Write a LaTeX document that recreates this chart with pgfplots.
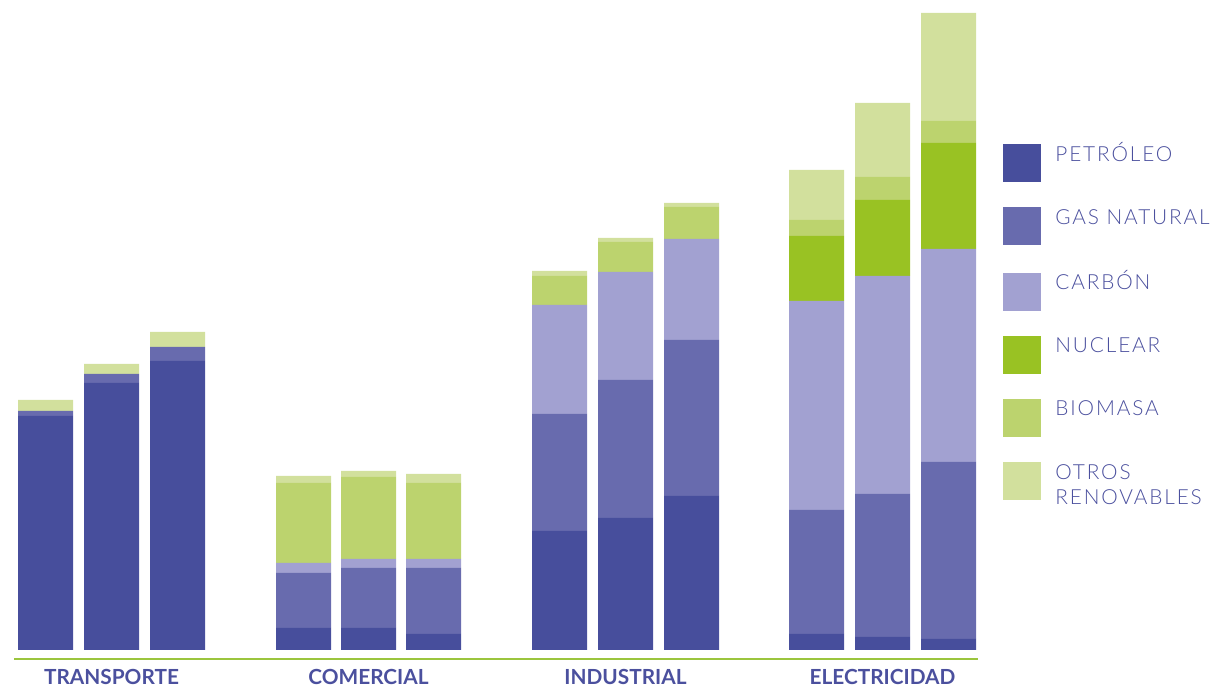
\documentclass[border=0pt]{standalone}
\usepackage{pgfplots}
\pgfplotsset{compat=1.18}
\usepackage{pgfplotstable}
\usepackage{fontspec}
\setmainfont{Lato}
\IfFontExistsTF{Lato Light}{\newfontfamily\legfont[LetterSpace=9]{Lato Light}}{\newfontfamily\legfont[LetterSpace=9]{Lato}}

\definecolor{petroleo}{HTML}{474E9C}
\definecolor{gasnat}{HTML}{686BAE}
\definecolor{carbon}{HTML}{A2A1D1}
\definecolor{nuclear}{HTML}{99C223}
\definecolor{biomasa}{HTML}{BCD36E}
\definecolor{otros}{HTML}{D2E09D}
\definecolor{txt}{HTML}{4B509E}
\definecolor{baseline}{HTML}{9BC53D}

% energy use by sector, three bars per sector
\pgfplotstableread{
x     pet  gas  carb  nuc  bio  otr
45.5  234  5    0     0    0    11
111.5 267  9    0     0    0    10
177.5 289  14   0     0    0    15
303.5 22   55   10    0    80   7
368.5 22   60   9     0    82   6
433.5 16   66   9     0    76   9
559.5 119  117  109   0    29   5
625.5 132  138  108   0    30   4
691.5 154  156  101   0    32   4
816.5 16   124  209   65   16   50
882.5 13   143  218   76   23   74
948.5 11   177  213   106  22   108
}\datos

\begin{document}
\begin{tikzpicture}
\begin{axis}[
  scale only axis,
  width=482pt, height=329.5pt,
  xmin=14, xmax=978, ymin=-9, ymax=650,
  enlargelimits=false,
  clip=false,
  ybar stacked,
  bar width=27.5pt,
  axis x line=bottom,
  axis line style={-, draw=baseline, line width=1pt},
  hide y axis,
  xtick={111.5,368.5,625.5,882.5},
  xticklabels={TRANSPORTE,COMERCIAL,INDUSTRIAL,ELECTRICIDAD},
  major tick length=0pt,
  xticklabel style={anchor=base, yshift=-13pt, text=txt,
    font=\fontsize{10.4}{12}\selectfont\bfseries},
  every axis plot/.append style={draw=none},
  legend image code/.code={\fill (0pt,-10.5pt) rectangle (19pt,8.5pt);},
  legend style={draw=none, fill=none, inner sep=0pt,
    at={(1.0259,0.7846)}, anchor=north west,
    row sep=12.5pt, column sep=7pt,
    cells={anchor=base west},
    nodes={inner sep=0pt, text=txt},
    font=\legfont\fontsize{10.4}{12.5}\selectfont},
]
\addplot[fill=petroleo] table[x=x, y=pet] {\datos};
\addplot[fill=gasnat]   table[x=x, y=gas] {\datos};
\addplot[fill=carbon]   table[x=x, y=carb] {\datos};
\addplot[fill=nuclear]  table[x=x, y=nuc] {\datos};
\addplot[fill=biomasa]  table[x=x, y=bio] {\datos};
\addplot[fill=otros]    table[x=x, y=otr] {\datos};
\legend{PETRÓLEO, GAS NATURAL, CARBÓN, NUCLEAR, BIOMASA,
  {\begin{tabular}[t]{@{}l@{}}OTROS\\RENOVABLES\end{tabular}}}
\coordinate (bl) at (axis cs:0,-39);
\coordinate (tr) at (axis cs:1219,650);
\end{axis}
\pgfresetboundingbox
\path[use as bounding box] (bl) rectangle (tr);
\end{tikzpicture}
\end{document}
